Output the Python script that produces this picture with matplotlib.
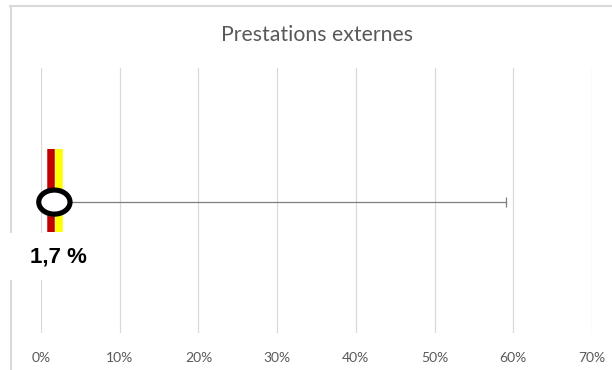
import matplotlib
matplotlib.use("Agg")
import matplotlib.pyplot as plt
import numpy as np
from matplotlib.path import Path
from matplotlib.lines import Line2D
from matplotlib.patches import Rectangle
import matplotlib.patheffects as pe

# Data
title = "Prestations externes"
value = 1.7            # displayed rate (%)
range_max = 59.1       # upper end of the range line (%)
ref_red = 1.3          # red reference band (%)
ref_yellow = 2.3       # yellow reference band (%)
x_ticks = [0, 10, 20, 30, 40, 50, 60, 70]
x_tick_labels = ["0%", "10%", "20%", "30%", "40%", "50%", "60%", "70%"]
value_label = "1,7 %"

W, H = 612, 370
fig = plt.figure(figsize=(W / 100, H / 100), dpi=100)
fig.patch.set_facecolor("white")

# outer chart frame (top and left edges)
frame_col = "#D9D9D9"
fig.add_artist(Line2D([10 / W, 1.0], [1 - 6 / H, 1 - 6 / H], color=frame_col,
                      lw=1.5, zorder=-1, transform=fig.transFigure))
fig.add_artist(Line2D([11 / W, 11 / W], [0, 1 - 6 / H], color=frame_col,
                      lw=1.5, zorder=-1, transform=fig.transFigure))

left, right = 41 / W, 592 / W
bottom, top = (H - 333) / H, (H - 68) / H
ax = fig.add_axes([left, bottom, right - left, top - bottom])
ax.set_xlim(0, 70)
ax.set_ylim(0, 1)
for s in ax.spines.values():
    s.set_visible(False)
ax.set_yticks([])
ax.set_xticks(x_ticks)
ax.set_xticklabels(x_tick_labels, fontsize=10, color="#595959", family="Lato")
ax.tick_params(axis="x", length=0, pad=14)
ax.grid(axis="x", color="#D9D9D9", lw=0.9, zorder=0)
ax.set_axisbelow(True)

yc = 0.494

# reference bands
ax.vlines([ref_red], 0.381, 0.694, color="#C00000", lw=5.4, zorder=3)
ax.vlines([ref_yellow], 0.381, 0.694, color="#FFFF00", lw=5.4, zorder=3)

# range line with end cap
ax.errorbar([value], [yc], xerr=[[0], [range_max - value]], fmt="none",
            ecolor="#7F7F7F", elinewidth=0.9, capsize=3.5, capthick=0.9, zorder=4)

# value marker (elliptical ring)
t = np.linspace(0, 2 * np.pi, 100)
ring = Path(np.column_stack([1.3 * np.cos(t), np.sin(t)]), closed=True)
ax.plot([value], [yc], marker=ring, markersize=22.5, markerfacecolor="white",
        markeredgecolor="black", markeredgewidth=3.7, linestyle="none", zorder=5,
        clip_on=False,
        path_effects=[pe.SimplePatchShadow(offset=(-1, -2), shadow_rgbFace="#808080",
                                           alpha=0.35), pe.Normal()])

# label backdrop and value label
bx0 = (4 - 41) / 7.871
bx1 = (112 - 41) / 7.871
ax.add_patch(Rectangle((bx0, (333 - 280) / 265), bx1 - bx0, (280 - 233) / 265,
                       facecolor="white", edgecolor="none", zorder=6, clip_on=False))
ax.annotate(value_label, xy=(value, yc), xytext=(3, -39.5), textcoords="offset points",
            ha="center", va="center", fontsize=16, fontweight="bold",
            family="Liberation Sans", color="black", zorder=7, annotation_clip=False)

fig.text(317 / W, 1 - 35 / H, title, ha="center", va="center", fontsize=15.3,
         color="#595959", family="Lato")

fig.savefig("out.png", dpi=100)
